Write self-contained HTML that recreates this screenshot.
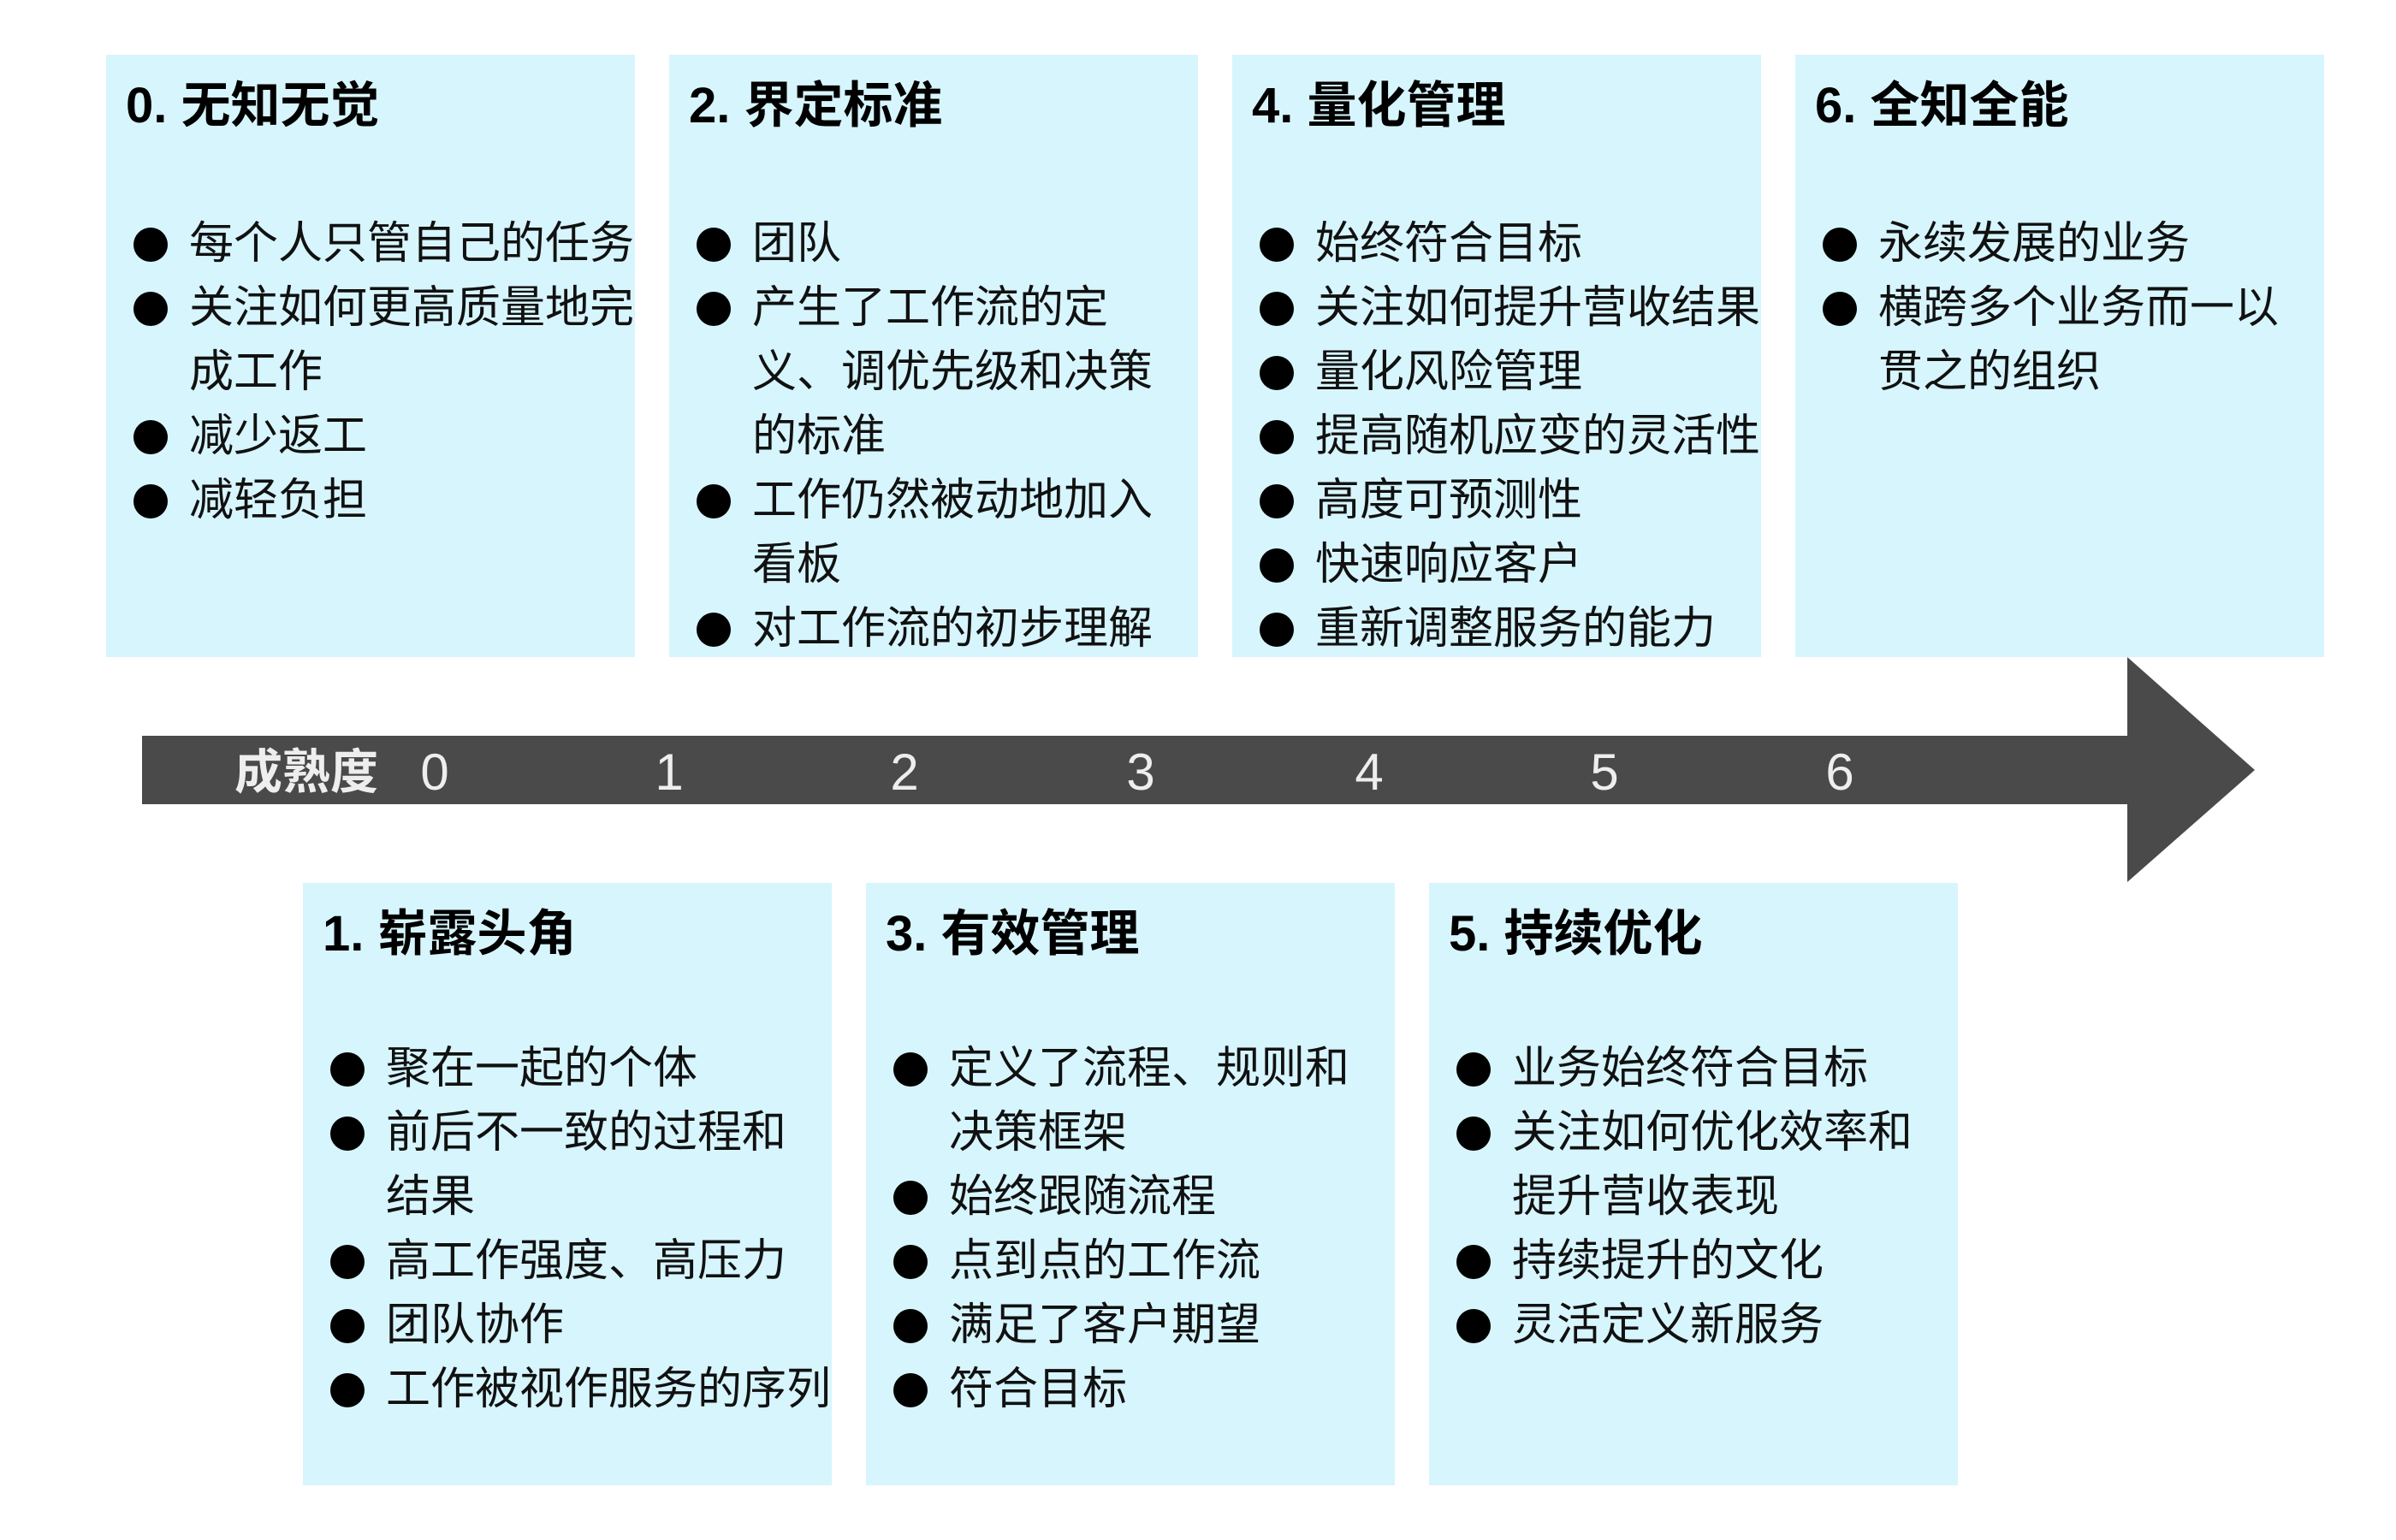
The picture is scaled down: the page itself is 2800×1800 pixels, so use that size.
<!DOCTYPE html>
<html><head><meta charset="utf-8"><style>
body{margin:0;width:2800px;height:1800px;background:#fff;position:relative;overflow:hidden;font-family:"Liberation Sans","Noto Sans CJK SC",sans-serif;}
.box{position:absolute;width:618px;height:704px;background:#d7f5fd;}
.t{position:absolute;left:23px;top:28px;font-size:58px;font-weight:bold;line-height:64px;white-space:nowrap;color:#000;}
.l{position:absolute;left:97px;font-size:52px;line-height:75px;white-space:nowrap;color:#111;}
.b{position:absolute;left:32px;width:75px;height:75px;font-size:0;color:transparent;}
.b::before{content:"";position:absolute;left:0;top:18px;width:40px;height:40px;border-radius:50%;background:#000;}
.n{position:absolute;top:868px;font-size:60px;line-height:70px;color:#eee;transform:translateX(-50%);}
</style></head><body>
<svg style="position:absolute;left:0;top:0" width="2800" height="1800">
<polygon points="166,860 2486,860 2486,768 2635,900 2486,1031 2486,940 166,940" fill="#4a4a4a"/>
</svg>
<div class="n" style="left:358px;font-weight:bold;font-size:56px">成熟度</div>
<div class="n" style="left:508px">0</div>
<div class="n" style="left:782px">1</div>
<div class="n" style="left:1057px">2</div>
<div class="n" style="left:1333px">3</div>
<div class="n" style="left:1600px">4</div>
<div class="n" style="left:1875px">5</div>
<div class="n" style="left:2150px">6</div>

<div class="box" style="left:124px;top:64px">
<div class="t">0. 无知无觉</div>
<div class="b" style="top:184px">●</div><div class="l" style="top:184px">每个人只管自己的任务</div>
<div class="b" style="top:259px">●</div><div class="l" style="top:259px">关注如何更高质量地完</div>
<div class="l" style="top:334px">成工作</div>
<div class="b" style="top:409px">●</div><div class="l" style="top:409px">减少返工</div>
<div class="b" style="top:484px">●</div><div class="l" style="top:484px">减轻负担</div>
</div>

<div class="box" style="left:782px;top:64px">
<div class="t">2. 界定标准</div>
<div class="b" style="top:184px">●</div><div class="l" style="top:184px">团队</div>
<div class="b" style="top:259px">●</div><div class="l" style="top:259px">产生了工作流的定</div>
<div class="l" style="top:334px">义、调优先级和决策</div>
<div class="l" style="top:409px">的标准</div>
<div class="b" style="top:484px">●</div><div class="l" style="top:484px">工作仍然被动地加入</div>
<div class="l" style="top:559px">看板</div>
<div class="b" style="top:634px">●</div><div class="l" style="top:634px">对工作流的初步理解</div>
</div>

<div class="box" style="left:1440px;top:64px">
<div class="t">4. 量化管理</div>
<div class="b" style="top:184px">●</div><div class="l" style="top:184px">始终符合目标</div>
<div class="b" style="top:259px">●</div><div class="l" style="top:259px">关注如何提升营收结果</div>
<div class="b" style="top:334px">●</div><div class="l" style="top:334px">量化风险管理</div>
<div class="b" style="top:409px">●</div><div class="l" style="top:409px">提高随机应变的灵活性</div>
<div class="b" style="top:484px">●</div><div class="l" style="top:484px">高度可预测性</div>
<div class="b" style="top:559px">●</div><div class="l" style="top:559px">快速响应客户</div>
<div class="b" style="top:634px">●</div><div class="l" style="top:634px">重新调整服务的能力</div>
</div>

<div class="box" style="left:2098px;top:64px">
<div class="t">6. 全知全能</div>
<div class="b" style="top:184px">●</div><div class="l" style="top:184px">永续发展的业务</div>
<div class="b" style="top:259px">●</div><div class="l" style="top:259px">横跨多个业务而一以</div>
<div class="l" style="top:334px">贯之的组织</div>
</div>

<div class="box" style="left:354px;top:1032px">
<div class="t">1. 崭露头角</div>
<div class="b" style="top:180px">●</div><div class="l" style="top:180px">聚在一起的个体</div>
<div class="b" style="top:255px">●</div><div class="l" style="top:255px">前后不一致的过程和</div>
<div class="l" style="top:330px">结果</div>
<div class="b" style="top:405px">●</div><div class="l" style="top:405px">高工作强度、高压力</div>
<div class="b" style="top:480px">●</div><div class="l" style="top:480px">团队协作</div>
<div class="b" style="top:555px">●</div><div class="l" style="top:555px">工作被视作服务的序列</div>
</div>

<div class="box" style="left:1012px;top:1032px">
<div class="t">3. 有效管理</div>
<div class="b" style="top:180px">●</div><div class="l" style="top:180px">定义了流程、规则和</div>
<div class="l" style="top:255px">决策框架</div>
<div class="b" style="top:330px">●</div><div class="l" style="top:330px">始终跟随流程</div>
<div class="b" style="top:405px">●</div><div class="l" style="top:405px">点到点的工作流</div>
<div class="b" style="top:480px">●</div><div class="l" style="top:480px">满足了客户期望</div>
<div class="b" style="top:555px">●</div><div class="l" style="top:555px">符合目标</div>
</div>

<div class="box" style="left:1670px;top:1032px">
<div class="t">5. 持续优化</div>
<div class="b" style="top:180px">●</div><div class="l" style="top:180px">业务始终符合目标</div>
<div class="b" style="top:255px">●</div><div class="l" style="top:255px">关注如何优化效率和</div>
<div class="l" style="top:330px">提升营收表现</div>
<div class="b" style="top:405px">●</div><div class="l" style="top:405px">持续提升的文化</div>
<div class="b" style="top:480px">●</div><div class="l" style="top:480px">灵活定义新服务</div>
</div>
</body></html>
